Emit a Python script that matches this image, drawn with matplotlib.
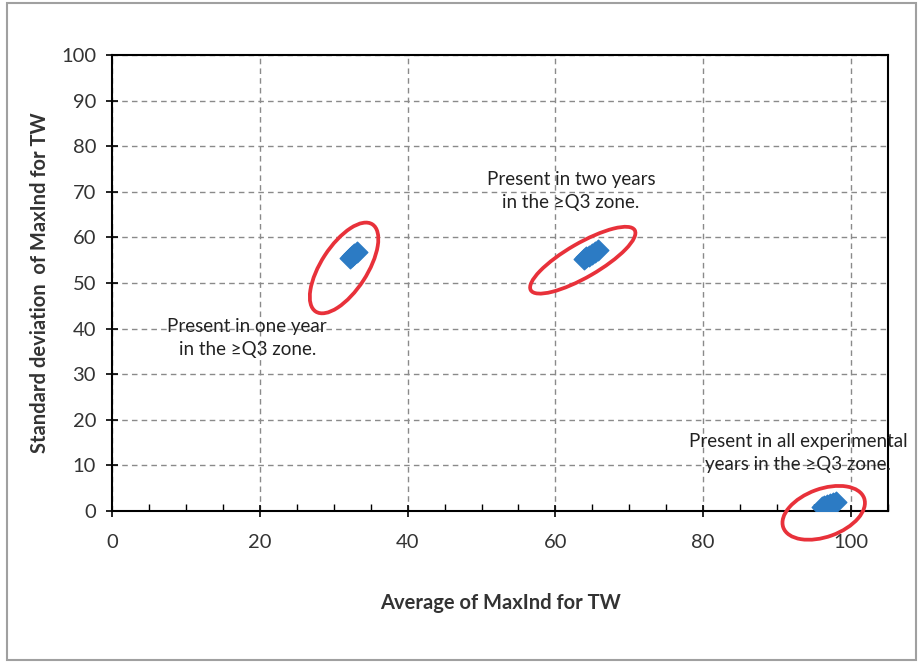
import matplotlib
matplotlib.use("Agg")
import matplotlib.pyplot as plt
from matplotlib.patches import Ellipse, Rectangle
from matplotlib.transforms import ScaledTranslation
from matplotlib.ticker import MultipleLocator

plt.rcParams['font.family'] = ['Lato', 'DejaVu Sans']

# Data
avg_maxind = [32.2, 32.5, 32.8, 33.1,
              63.8, 64.2, 64.6, 65.0, 65.4, 65.8,
              96.1, 96.4, 96.8, 97.2, 97.6, 98.0]
sd_maxind = [55.5, 55.9, 56.3, 56.8,
             55.3, 55.6, 56.0, 56.4, 56.8, 57.2,
             0.8, 1.1, 1.4, 1.6, 1.8, 1.9]

x_ticks = [0, 20, 40, 60, 80, 100]
y_ticks = [0, 10, 20, 30, 40, 50, 60, 70, 80, 90, 100]

labels = ["Present in one year\nin the \u2265Q3 zone.",
          "Present in two years\nin the \u2265Q3 zone.",
          "Present in all experimental\nyears in the \u2265Q3 zone."]
label_pos = [(18.3, 37.9), (62.1, 70.2), (92.8, 12.7)]

# ellipses: center (data), width/height (px), angle (deg)
ell_centers = [(31.4, 53.3), (63.7, 55.0), (96.3, -0.4)]
ell_sizes = [(104, 46, 57), (120, 34, 30), (86, 48, 20)]

fig = plt.figure(figsize=(9.18, 6.62), dpi=100)
ax = fig.add_axes([112/918, 1-511/662, (888-112)/918, (511-55)/662])

ax.scatter(avg_maxind, sd_maxind, marker='D', s=110, color='#2C7BC4',
           edgecolors='#2C7BC4', zorder=3)

ax.set_xlim(0, 105)
ax.set_ylim(0, 100)
ax.set_xticks(x_ticks)
ax.set_yticks(y_ticks)
ax.xaxis.set_minor_locator(MultipleLocator(5))
ax.grid(True, which='major', linestyle=(0, (4, 3)), color='#8a8a8a', linewidth=1)
ax.set_axisbelow(True)
ax.tick_params(axis='x', which='major', direction='inout', length=9, width=1.2,
               labelsize=14.5, labelcolor='#333333', pad=12)
ax.tick_params(axis='x', which='minor', direction='in', length=5, width=1)
ax.tick_params(axis='y', which='major', direction='inout', length=9, width=1.2,
               labelsize=14.5, labelcolor='#333333', pad=7)
for s in ax.spines.values():
    s.set_color('black')
    s.set_linewidth(1.5)

ax.set_xlabel("Average of MaxInd for TW", fontsize=14.5, fontweight='bold',
              color='#333333', labelpad=30)
ax.set_ylabel("Standard deviation  of MaxInd for TW", fontsize=14.5, fontweight='bold',
              color='#333333', labelpad=8)

for txt, (tx, ty) in zip(labels, label_pos):
    ax.text(tx, ty, txt, ha='center', va='center', fontsize=13.5,
            color='#222222', linespacing=1.4, zorder=4)

for (cx, cy), (w, h, a) in zip(ell_centers, ell_sizes):
    tr = fig.dpi_scale_trans + ScaledTranslation(cx, cy, ax.transData)
    e = Ellipse((0, 0), w/100, h/100, angle=a, fill=False, edgecolor='#E8313A',
                linewidth=2.7, transform=tr, clip_on=False, zorder=5)
    ax.add_artist(e)

fig.patches.append(Rectangle((7/918, 2/662), (916-7)/918, (659-2)/662,
                             transform=fig.transFigure, fill=False,
                             edgecolor='#a0a0a0', linewidth=1.5))

fig.savefig("out.png", dpi=100)
